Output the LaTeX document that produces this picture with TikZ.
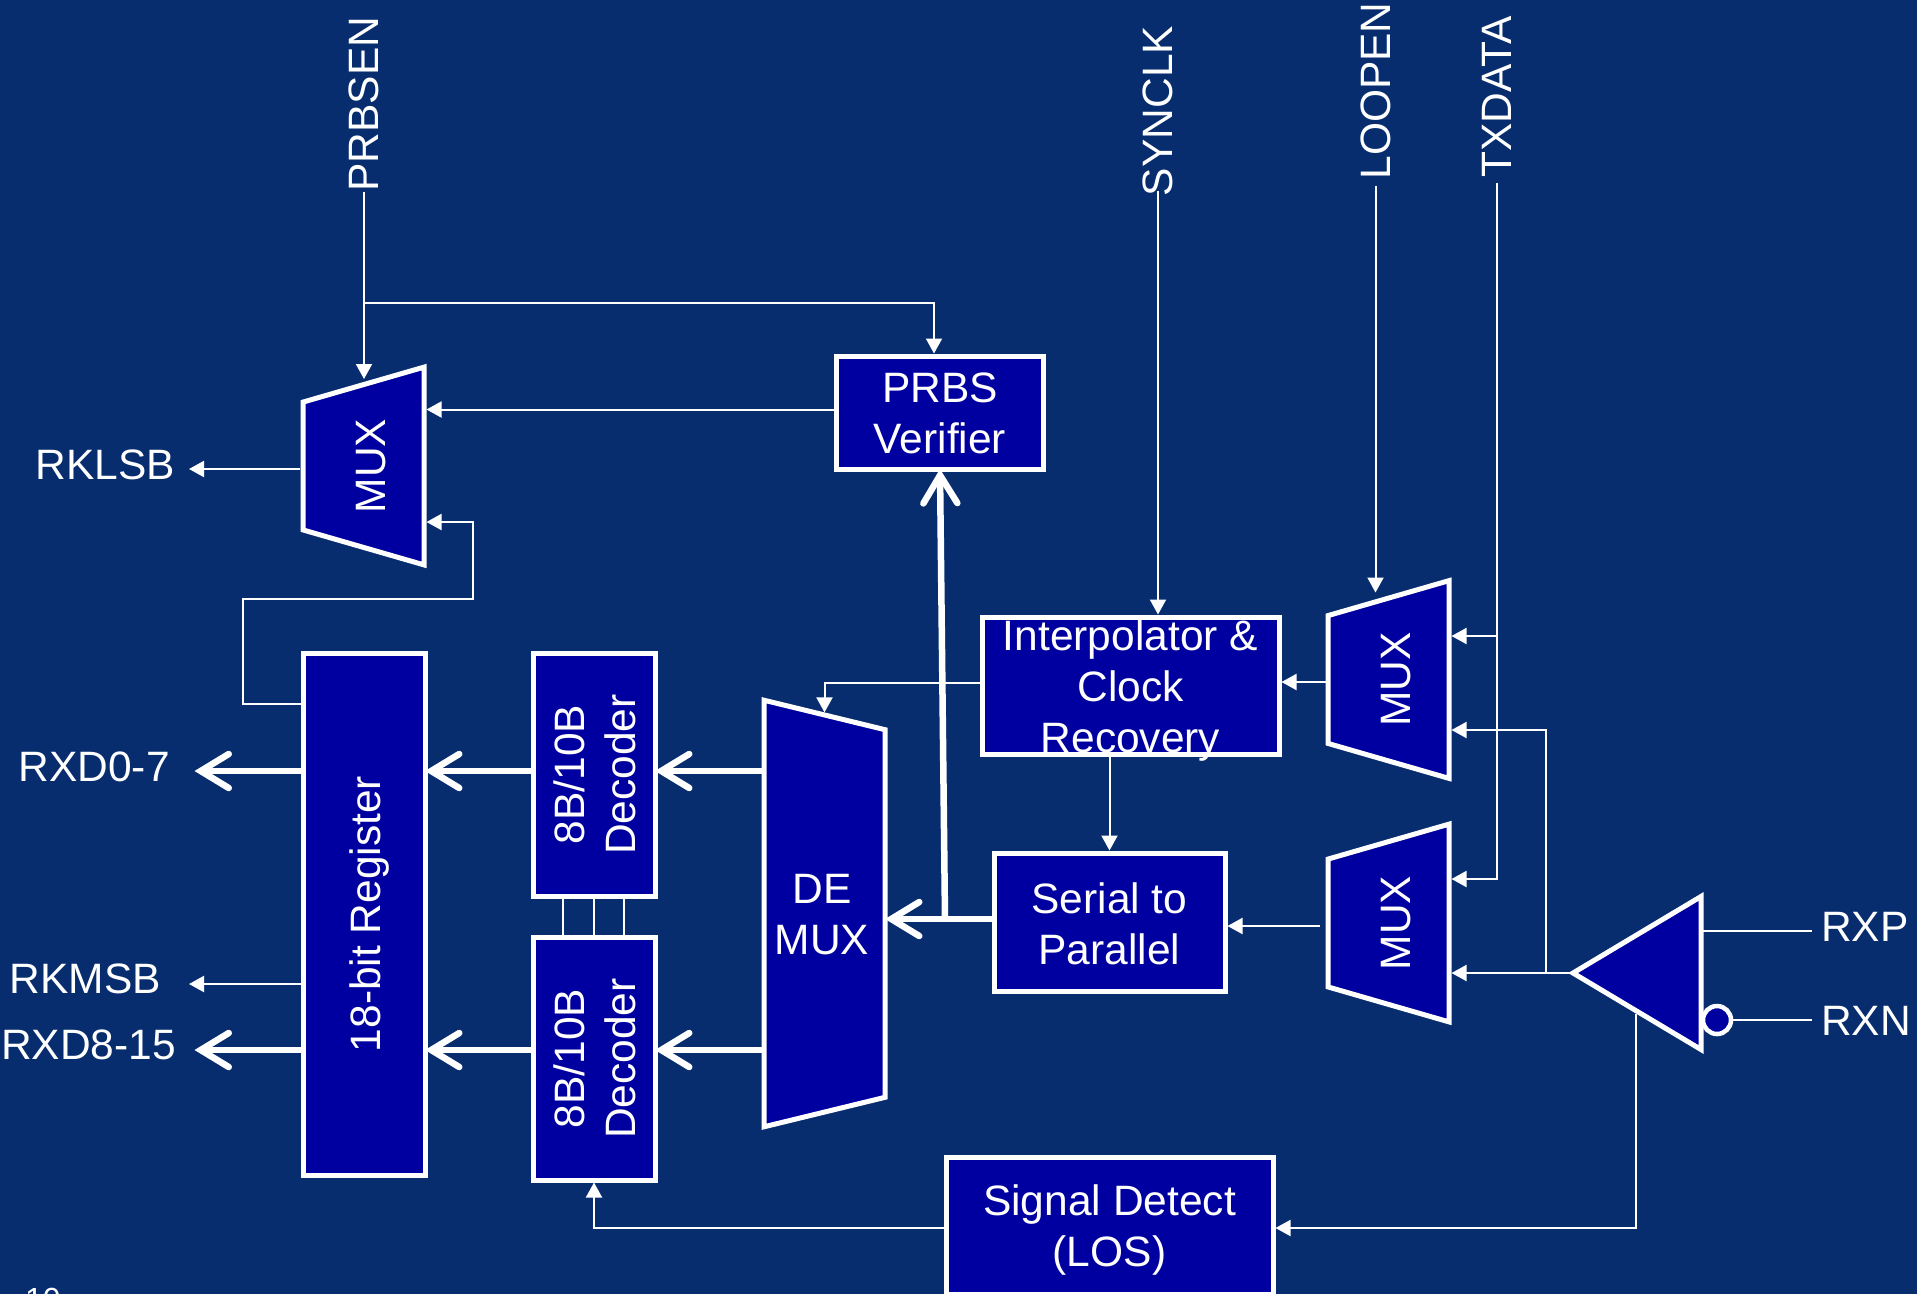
\documentclass[tikz,border=0pt]{standalone}
\usepackage{fontspec}
\setmainfont{Liberation Sans}
\usetikzlibrary{arrows.meta,positioning,shapes.geometric}
\definecolor{slidebg}{RGB}{7,45,110}
\definecolor{blockfill}{RGB}{0,0,160}
\newcommand{\stacked}[1]{\begin{tabular}{@{}c@{}}#1\end{tabular}}
\newcommand{\vtext}[1]{\hspace*{12pt}\rotatebox{90}{\stacked{#1}}}
\newcommand{\boxtext}[2][12pt]{\raisebox{-#1}[0pt][0pt]{\stacked{#2}}}

\begin{document}
\begin{tikzpicture}[
    x=1pt,y=-1pt,
    >={Triangle[length=15pt,width=16pt]},
    labeltext/.style={
        text=white,
        font=\fontsize{42.5}{51}\selectfont
    },
    basebox/.style={
        labeltext,
        draw=white,
        fill=blockfill,
        line width=5pt,
        align=center,
        inner sep=0pt
    },
    tallbox/.style={basebox, minimum width=122pt, minimum height=522pt},
    decbox/.style={basebox, minimum width=122pt, minimum height=243pt},
    muxbox/.style={
        basebox,
        trapezium,
        trapezium stretches=true,
        trapezium left angle=71,
        trapezium right angle=71,
        shape border rotate=90,
        minimum width=198pt,
        minimum height=121pt
    },
    demuxbox/.style={muxbox, trapezium left angle=84.2, trapezium right angle=84.2,
        shape border rotate=270, minimum width=427pt},
    ampbox/.style={
        basebox,
        isosceles triangle,
        isosceles triangle stretches=true,
        shape border rotate=180,
        outer sep=0pt,
        minimum width=153pt,
        minimum height=128pt
    },
    bubble/.style={circle, draw=white, fill=blockfill, line width=4.5pt, minimum size=28pt, inner sep=0pt},
    toplabel/.style={labeltext, inner sep=0pt},
    sidelabel/.style={labeltext, inner sep=0pt, anchor=east},
    pinlabel/.style={labeltext, inner ysep=0pt, inner xsep=9pt, anchor=west},
    link/.style={draw=white, line width=2pt},
    arrow/.style={link, ->},
    bus/.style={draw=white, line width=6.5pt, shorten >=-2.5pt,
        -{Straight Barb[length=28pt,width=34pt,line cap=round,line join=miter]}}
]
\useasboundingbox (0,0) rectangle (1917,1294);
\fill[slidebg] (0,0) rectangle (1917,1294);

% Blocks
\node[tallbox] (reg) at (364,914) {\vtext{18-bit Register}};
\node[decbox, right=103pt of reg.north east, anchor=north west] (dec1) {\vtext{8B/10B\\Decoder}};
\node[decbox, below=36pt of dec1] (dec2) {\vtext{8B/10B\\Decoder}};
\node[muxbox] (mux1) at (363.5,466) {\hspace*{12pt}\vtext{MUX}};
\node[demuxbox] (demux) at (824.5,913.5) {\hspace*{-5pt}\stacked{\rule{0pt}{47pt}DE\\MUX}};
\node[basebox, minimum width=207pt, minimum height=113pt] (prbs) at (940,412.5) {\boxtext{PRBS\\Verifier}};
\node[basebox, minimum width=297pt, minimum height=137pt] (intp) at (1130.5,685.5)
    {\boxtext{Interpolator \&\\Clock\\Recovery}};
\node[basebox, minimum width=231pt, minimum height=138pt] (serial) at (1109.5,922) {\boxtext[13pt]{Serial to\\Parallel}};
\node[basebox, minimum width=327pt, minimum height=137pt] (sigdet) at (1109.5,1225.5) {\boxtext{Signal Detect\\(LOS)}};
\node[muxbox] (mux2) at (1388.5,679.5) {\hspace*{12pt}\vtext{MUX}};
\node[muxbox] (mux3) at (1388.5,923) {\hspace*{12pt}\vtext{MUX}};
\node[ampbox, anchor=apex] (amp) at (1573,973) {};
\node[bubble] (inv) at (1717,1020) {};

% Labels
\node[toplabel] (prbsen) at (364,104) {\rotatebox{90}{PRBSEN}};
\node[toplabel] (synclk) at (1158,111) {\rotatebox{90}{SYNCLK}};
\node[toplabel] (loopen) at (1375.5,91) {\rotatebox{90}{LOOPEN}};
\node[toplabel] (txdata) at (1497,97) {\rotatebox{90}{TXDATA}};
\node[sidelabel] (rklsb) at (175,465) {RKLSB};
\node[sidelabel] (rxdlow) at (170,767) {RXD0-7};
\node[sidelabel] (rkmsb) at (161,979) {RKMSB};
\node[sidelabel] (rxdhigh) at (176,1045) {RXD8-15};
\node[pinlabel] (rxp) at (1812,927) {RXP};
\node[pinlabel] (rxn) at (1812,1021) {RXN};
\node[anchor=north west, inner sep=0pt, text=white, font=\fontsize{32}{36}\selectfont] (pageno) at (25,1288) {10};

% Junctions and free ends
\coordinate (prbsjoin) at (364,303);
\coordinate (fbleft) at (243,599);
\coordinate (fbright) at (473,522);
\coordinate (txtop) at (1497,636);
\coordinate (txlow) at (1497,879);
\coordinate (rxjoin) at (1546,973);
\coordinate (rxfeed) at (1546,730);
\coordinate (ampout) at (1636,1014);
\coordinate (klsbout) at (189,469);
\coordinate (kmsbout) at (189,984);
\coordinate (lowout) at (197,771);
\coordinate (highout) at (197,1050);
\coordinate (busjoin) at (945,919);

% Connections
\draw[arrow, shorten >=3pt] (prbsen.south) -- (prbsen.south |- mux1.north);
\draw[arrow] (prbsjoin) -| ([xshift=-6pt]prbs.north);
\draw[arrow] ([yshift=3pt]prbs.west) -- ([yshift=3pt]prbs.west -| mux1.east);
\draw[arrow] (klsbout -| mux1.west) -- (klsbout);
\draw[arrow] ([yshift=-53pt]reg.north west) -| (fbleft) -| (fbright) -- (fbright -| mux1.east);
\draw[arrow] (kmsbout -| reg.west) -- (kmsbout);
\foreach \dx in {-31,0,30}
    \draw[link] ([xshift=\dx pt]dec1.south) -- ([xshift=\dx pt]dec2.north);
\draw[arrow] ([yshift=3pt]intp.west) -| (demux.north);
\draw[arrow] (intp.south -| serial.north) -- (serial.north);
\draw[arrow] ([yshift=-2.5pt]mux2.west) -- ([yshift=-2.5pt]mux2.west -| intp.east);
\draw[arrow] ([xshift=-6pt,yshift=-3pt]mux3.west) -- ([yshift=-3pt]mux3.west -| serial.east);
\draw[arrow] (synclk.south) ++(0,-5) -- (synclk.south |- intp.north);
\draw[arrow, shorten >=3pt] (loopen.south) ++(0,6) -- (loopen.south |- mux2.north);
\draw[arrow] (txdata.south) ++(0,5) |- (txlow -| mux3.east);
\draw[arrow] (txtop) -- (txtop -| mux2.east);
\draw[arrow] (amp.apex) -- (amp.apex -| mux3.east);
\draw[arrow] (rxjoin) |- (rxfeed -| mux2.east);
\draw[link] ([yshift=-4pt]rxp.west) -- ([yshift=-4pt]rxp.west -| amp.east);
\draw[link] (inv.east) -- (inv.east -| rxn.west);
\draw[arrow] (ampout) |- ([yshift=-2.5pt]sigdet.east);
\draw[arrow] ([yshift=-2.5pt]sigdet.west) -| (dec2.south);
\draw[bus] (lowout -| demux.west) -- (lowout -| dec1.east);
\draw[bus] (highout -| demux.west) -- (highout -| dec2.east);
\draw[bus] (lowout -| dec1.west) -- (lowout -| reg.east);
\draw[bus] (highout -| dec2.west) -- (highout -| reg.east);
\draw[bus] (lowout -| reg.west) -- (lowout);
\draw[bus] (highout -| reg.west) -- (highout);
\draw[bus] (busjoin -| serial.west) -- (busjoin -| demux.east);
\draw[bus] (busjoin) -- (prbs.south);

\end{tikzpicture}
\end{document}
